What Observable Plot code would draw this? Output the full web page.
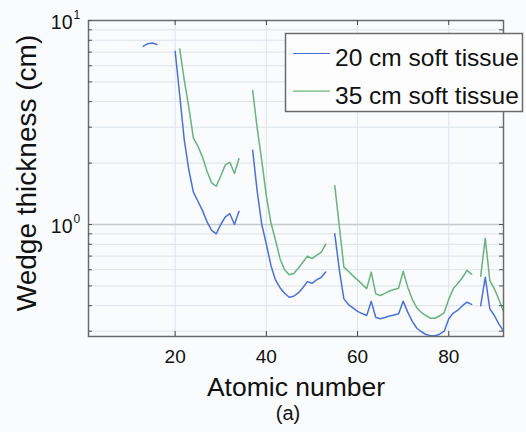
<!DOCTYPE html>
<html>
<head>
<meta charset="utf-8">
<script src="https://cdn.jsdelivr.net/npm/d3@7"></script>
<script src="https://cdn.jsdelivr.net/npm/@observablehq/plot@0.6"></script>
<style>
  html, body { margin: 0; padding: 0; background: #fafbfc; }
  #wrap { position: relative; width: 526px; height: 432px; font-family: "Liberation Sans", Arial, Helvetica, sans-serif; }
  #caption { position: absolute; left: 238px; width: 100px; top: 402px; text-align: center; font-size: 20px; color: #111; }
  #legend { position: absolute; left: 0; top: 0; }
</style>
</head>
<body>
<div id="wrap"></div>
<script>
// Atomic number of each filter element
const atomicNumber = [
  13, 14, 15, 16, 17, 18, 19, 20, 21, 22, 23, 24, 25, 26, 27, 28, 29, 30, 31, 32,
  33, 34, 35, 36, 37, 38, 39, 40, 41, 42, 43, 44, 45, 46, 47, 48, 49, 50, 51, 52,
  53, 54, 55, 56, 57, 58, 59, 60, 61, 62, 63, 64, 65, 66, 67, 68, 69, 70, 71, 72,
  73, 74, 75, 76, 77, 78, 79, 80, 81, 82, 83, 84, 85, 86, 87, 88, 89, 90, 91, 92
];

// Wedge thickness (cm) behind 20 cm of soft tissue; null = no value
const wedge20 = [
  7.46, 7.70, 7.76, 7.63, null, null, null, 7.07, 4.3, 2.6, 1.85, 1.44, 1.30, 1.17, 1.03, 0.935, 0.90, 1.0, 1.09, 1.13,
  1.0, 1.16, null, null, 2.31, 1.45, 1.0, 0.80, 0.63, 0.535, 0.49, 0.46, 0.44, 0.445, 0.462, 0.49, 0.525, 0.515, 0.535, 0.55,
  0.585, null, 0.90, 0.60, 0.432, 0.405, 0.39, 0.375, 0.366, 0.358, 0.42, 0.35, 0.345, 0.35, 0.356, 0.36, 0.365, 0.421, 0.372, 0.335,
  0.31, 0.298, 0.289, 0.285, 0.285, 0.29, 0.30, 0.345, 0.368, 0.38, 0.40, 0.416, 0.406, null, 0.40, 0.552, 0.386, 0.358, 0.325, 0.30
];

// Wedge thickness (cm) behind 35 cm of soft tissue; null = no value
const wedge35 = [
  null, null, null, null, null, null, null, null, 7.26, 5.1, 3.75, 2.65, 2.42, 2.14, 1.82, 1.6, 1.54, 1.73, 1.96, 2.02,
  1.78, 2.10, null, null, 4.54, 2.95, 2.05, 1.38, 1.02, 0.84, 0.68, 0.60, 0.567, 0.575, 0.61, 0.653, 0.70, 0.68, 0.705, 0.73,
  0.80, null, 1.55, 0.98, 0.618, 0.59, 0.56, 0.535, 0.51, 0.485, 0.583, 0.457, 0.449, 0.46, 0.472, 0.48, 0.487, 0.59, 0.493, 0.43,
  0.39, 0.37, 0.358, 0.347, 0.347, 0.357, 0.37, 0.43, 0.485, 0.515, 0.55, 0.596, 0.57, null, 0.558, 0.857, 0.531, 0.484, 0.428, 0.376
];

const seriesNames = ["20 cm soft tissue", "35 cm soft tissue"];
const seriesColors = ["#4a72d6", "#68b47e"];

const xTicks = [20, 40, 60, 80];
const yMajor = [1, 10];
const yMinor = [0.3, 0.4, 0.5, 0.6, 0.7, 0.8, 0.9, 2, 3, 4, 5, 6, 7, 8, 9];

const W = 526, H = 400;
const mL = 88, mR = 23, mT = 20, mB = 64;
const innerW = W - mL - mR, innerH = H - mT - mB;
const font = "Liberation Sans, Arial, Helvetica, sans-serif";

const rows = atomicNumber.map((z, i) => ({z, a: wedge20[i], b: wedge35[i]}));
const allTicks = [...yMinor, ...yMajor];

const chart = Plot.plot({
  width: W, height: H,
  marginLeft: mL, marginRight: mR, marginTop: mT, marginBottom: mB,
  style: {background: "#fafbfc", fontFamily: font, color: "#111"},
  x: {domain: [1, 92], axis: null},
  y: {type: "log", domain: [0.2825, 10], axis: null},
  marks: [
    // grid
    Plot.ruleY(yMinor, {stroke: "#dde3ea", strokeWidth: 1}),
    Plot.ruleX(xTicks, {stroke: "#dbe4ee", strokeWidth: 1}),
    Plot.ruleY([1], {stroke: "#c6c8cc", strokeWidth: 1.6}),
    // series
    Plot.line(rows, {x: "z", y: "a", stroke: seriesColors[0], strokeWidth: 1.5, clip: true}),
    Plot.line(rows, {x: "z", y: "b", stroke: seriesColors[1], strokeWidth: 1.5, clip: true}),
    // box and inward ticks
    Plot.frame({stroke: "#6b6b6b", strokeWidth: 1.5}),
    Plot.ruleX(xTicks, {insetTop: innerH - 5, stroke: "#444"}),
    Plot.ruleX(xTicks, {insetBottom: innerH - 5, stroke: "#444"}),
    Plot.ruleY(allTicks, {insetRight: innerW - 4, stroke: "#555"}),
    Plot.ruleY(allTicks, {insetLeft: innerW - 4, stroke: "#555"}),
    // tick labels
    Plot.text(xTicks, {x: d => d, text: d => String(d), frameAnchor: "bottom", lineAnchor: "bottom", dy: 26, fontSize: 19, fill: "#111"}),
    Plot.text(yMajor, {y: d => d, text: () => "10", frameAnchor: "left", textAnchor: "end", lineAnchor: "middle", dx: -16, dy: 2, fontSize: 19.5, fill: "#111"}),
    Plot.text(yMajor, {y: d => d, text: d => String(Math.round(Math.log10(d))), frameAnchor: "left", textAnchor: "start", lineAnchor: "bottom", dx: -15, dy: -2, fontSize: 12, fill: "#111"}),
    // axis titles
    Plot.text(["Atomic number"], {text: d => d, frameAnchor: "bottom", textAnchor: "middle", lineAnchor: "bottom", dy: 59, fontSize: 26.5, fill: "#111"}),
    Plot.text(["Wedge thickness (cm)"], {text: d => d, frameAnchor: "left", textAnchor: "middle", rotate: -90, lineAnchor: "bottom", dx: -53, dy: -5.5, fontSize: 28, fill: "#111"})
  ]
});

const wrap = document.getElementById("wrap");
wrap.appendChild(chart);

// legend box in the upper right, overlapping the frame edge
const lg = d3.select(wrap).append("svg")
  .attr("id", "legend").attr("width", W).attr("height", 120)
  .style("font-family", font);
lg.append("rect")
  .attr("x", 285.5).attr("y", 33.5).attr("width", 237).attr("height", 78)
  .attr("fill", "#fdfdfd").attr("stroke", "#6b6b6b").attr("stroke-width", 1.5);
const item = lg.selectAll("g.item").data(seriesNames).join("g")
  .attr("transform", (d, i) => `translate(0, ${i * 37.7})`);
item.append("line")
  .attr("x1", 293).attr("x2", 330).attr("y1", 53.5).attr("y2", 53.5)
  .attr("stroke", (d, i) => seriesColors[i]).attr("stroke-width", 1.2);
item.append("text")
  .attr("x", 335).attr("y", 66).attr("font-size", 24.5).attr("fill", "#111")
  .text(d => d);

const cap = document.createElement("div");
cap.id = "caption";
cap.textContent = "(a)";
wrap.appendChild(cap);
</script>
</body>
</html>
